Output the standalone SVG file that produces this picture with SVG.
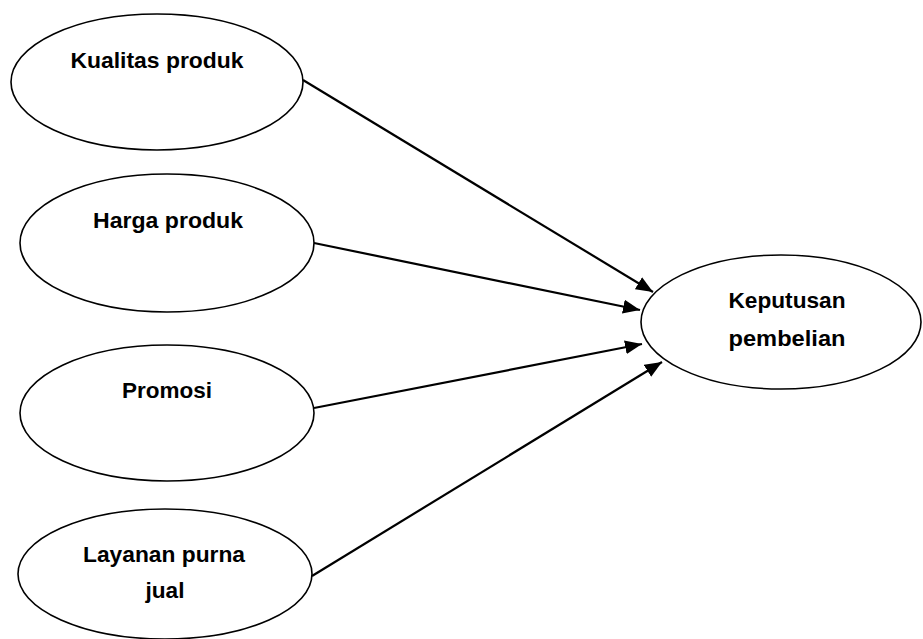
<svg xmlns="http://www.w3.org/2000/svg" width="923" height="639" viewBox="0 0 923 639">
<style>
.node ellipse{fill:#fff;stroke:#000;stroke-width:1.6}
.node text{font-family:"Liberation Sans",Arial,sans-serif;font-weight:bold;font-size:22px;fill:#000;text-anchor:middle}
.edges line{stroke:#000;stroke-width:2.2}
</style>
<defs>
<marker id="arr" markerUnits="userSpaceOnUse" markerWidth="18" markerHeight="14" refX="17" refY="7" orient="auto">
<path d="M0,0 L17,7 L0,14 Z" fill="#000"/>
</marker>
</defs>
<rect width="923" height="639" fill="#fff"/>
<g class="edges">
<line x1="303" y1="80" x2="653" y2="292" marker-end="url(#arr)"/>
<line x1="314" y1="243" x2="640" y2="310" marker-end="url(#arr)"/>
<line x1="314" y1="408" x2="642" y2="344" marker-end="url(#arr)"/>
<line x1="312" y1="576" x2="662" y2="362" marker-end="url(#arr)"/>
</g>
<g id="kualitas" class="node">
<ellipse cx="157" cy="82" rx="146" ry="68"/>
<text x="157" y="68" textLength="173" lengthAdjust="spacingAndGlyphs">Kualitas produk</text>
</g>
<g id="harga" class="node">
<ellipse cx="167" cy="243" rx="147" ry="69"/>
<text x="168" y="228" textLength="150" lengthAdjust="spacingAndGlyphs">Harga produk</text>
</g>
<g id="promosi" class="node">
<ellipse cx="167" cy="413" rx="147" ry="68"/>
<text x="167" y="398" textLength="90" lengthAdjust="spacingAndGlyphs">Promosi</text>
</g>
<g id="layanan" class="node">
<ellipse cx="165" cy="574" rx="147" ry="65"/>
<text x="164" y="562" textLength="162" lengthAdjust="spacingAndGlyphs">Layanan purna</text>
<text x="165" y="598" textLength="39" lengthAdjust="spacingAndGlyphs">jual</text>
</g>
<g id="keputusan" class="node">
<ellipse cx="781" cy="322" rx="140" ry="67"/>
<text x="787" y="308" textLength="117" lengthAdjust="spacingAndGlyphs">Keputusan</text>
<text x="787" y="346" textLength="117" lengthAdjust="spacingAndGlyphs">pembelian</text>
</g>
</svg>
